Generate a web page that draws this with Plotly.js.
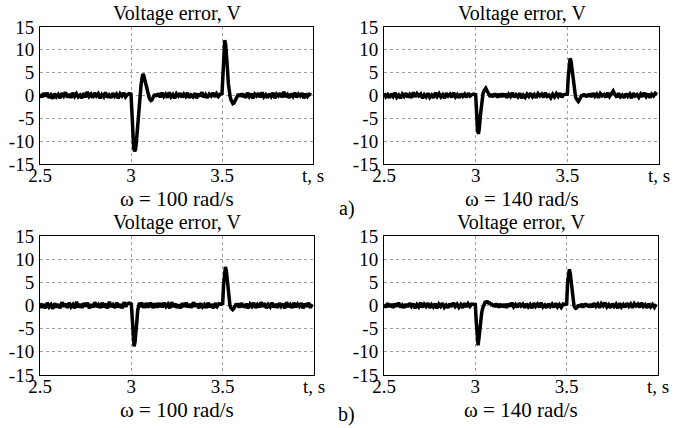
<!DOCTYPE html>
<html>
<head>
<meta charset="utf-8">
<script src="https://cdn.plot.ly/plotly-3.0.1.min.js"></script>
<style>html,body{margin:0;padding:0;background:#fff;}#chart{width:674px;height:428px;}</style>
</head>
<body>
<div id="chart"></div>
<script>
// time base, s
var t = [
 2.5,2.51,2.52,2.53,2.54,2.55,2.56,2.57,2.58,2.59,2.6,2.61,2.62,2.63,2.64,2.65,2.66,2.67,2.68,2.69,2.7,2.71,2.72,2.73,2.74,2.75,2.76,2.77,2.78,2.79,2.8,2.81,2.82,2.83,2.84,2.85,2.86,2.87,2.88,2.89,2.9,2.91,2.92,2.93,2.94,2.95,2.96,2.97,2.98,2.99,
 3,3.005,3.01,3.015,3.02,3.025,3.03,3.035,3.04,3.045,3.05,3.055,3.06,3.065,3.07,3.075,3.08,3.085,3.09,3.095,3.1,3.105,3.11,3.115,3.12,3.125,3.13,3.135,3.14,3.145,3.15,
 3.16,3.17,3.18,3.19,3.2,3.21,3.22,3.23,3.24,3.25,3.26,3.27,3.28,3.29,3.3,3.31,3.32,3.33,3.34,3.35,3.36,3.37,3.38,3.39,3.4,3.41,3.42,3.43,3.44,3.45,3.46,3.47,3.48,3.49,
 3.5,3.505,3.51,3.515,3.52,3.525,3.53,3.535,3.54,3.545,3.55,3.555,3.56,3.565,3.57,3.575,3.58,3.585,3.59,3.595,3.6,3.605,3.61,3.615,3.62,
 3.63,3.64,3.65,3.66,3.67,3.68,3.69,3.7,3.71,3.72,3.73,3.74,3.75,3.76,3.77,3.78,3.79,3.8,3.81,3.82,3.83,3.84,3.85,3.86,3.87,3.88,3.89,3.9,3.91,3.92,3.93,3.94,3.95,3.96,3.97,3.98,3.99
];

// a) omega = 100 rad/s
var errA100 = [
 0.3,-0.4,0.5,-0.2,0.6,-0.5,0.1,-0.7,0.4,-0.3,0.2,-0.6,0.5,-0.1,0.7,-0.4,0.3,-0.5,0.6,-0.2,0.4,-0.3,0.1,-0.6,0.5,-0.4,0.8,-0.2,0.3,-0.5,0.6,-0.1,0.4,-0.6,0.2,-0.3,0.7,-0.4,0.1,-0.5,0.5,-0.2,0.3,-0.6,0.4,-0.1,0.6,-0.3,0.2,0.4,
 0.3,-5,-10.5,-11.6,-12.2,-11.8,-10,-7,-4,-1.5,0.5,2.2,3.6,4.7,4.4,3.5,2.6,1.6,0.8,0.1,-0.5,-0.9,-1.1,-1.0,-0.6,-0.2,0.3,-0.3,0.4,-0.2,0.5,
 -0.4,0.6,-0.2,0.3,-0.5,0.7,-0.3,0.2,-0.6,0.4,-0.1,0.5,-0.4,0.3,-0.2,0.6,-0.5,0.1,-0.3,0.5,-0.6,0.4,-0.2,0.7,-0.4,0.2,-0.5,0.3,-0.1,0.6,-0.3,0.4,-0.2,0.3,
 0.4,6,11.5,12.1,11.2,9.2,5.8,2.6,0.6,-0.3,-1.0,-1.5,-1.8,-1.7,-1.3,-0.8,-0.4,0.1,0.3,-0.3,0.4,-0.2,0.5,-0.4,0.3,
 -0.5,0.6,-0.2,0.4,-0.6,0.3,-0.1,0.5,-0.4,0.7,-0.3,0.2,-0.5,0.4,-0.2,0.6,-0.6,0.3,-0.1,0.5,-0.4,0.8,-0.3,0.2,-0.5,0.4,-0.2,0.6,-0.4,0.3,-0.1,0.5,-0.6,0.4,-0.2,0.3,0.1
];
// a) omega = 140 rad/s
var errA140 = [
 0.5,-0.3,0.2,-0.5,0.4,-0.2,0.6,-0.4,0.1,-0.6,0.3,-0.2,0.5,-0.4,0.2,-0.5,0.7,-0.3,0.4,-0.1,0.3,-0.6,0.2,-0.3,0.5,-0.4,0.1,-0.5,0.6,-0.2,0.4,-0.3,0.2,-0.6,0.5,-0.1,0.3,-0.4,0.6,-0.3,0.2,-0.5,0.4,-0.2,0.3,-0.4,0.5,-0.1,0.2,0.3,
 0.2,-4,-7.5,-8.4,-7.2,-4.6,-2.3,-0.6,0.4,1.0,1.5,1.6,1.2,0.8,0.5,0.2,-0.3,0.4,-0.4,0.2,-0.2,0.5,-0.3,0.3,-0.5,0.4,-0.1,0.3,-0.4,0.5,-0.2,
 0.4,-0.5,0.3,-0.2,0.6,-0.4,0.2,-0.3,0.5,-0.6,0.1,-0.4,0.3,-0.2,0.5,-0.3,0.2,-0.5,0.4,-0.1,0.3,-0.4,0.6,-0.2,0.1,-0.5,0.3,-0.3,0.4,-0.2,0.5,-0.4,0.2,0.3,
 0.3,4,7.3,8.1,7.6,6,3.5,1.3,0.2,-0.4,-0.8,-1.1,-1.3,-1.0,-0.6,-0.3,0.2,-0.3,0.4,-0.2,0.3,-0.4,0.2,-0.1,0.4,
 -0.3,0.5,-0.2,0.3,-0.5,0.4,-0.1,0.2,-0.4,0.6,-0.2,0.3,1.0,0.2,-0.4,0.5,-0.3,0.1,-0.5,0.4,-0.2,0.3,-0.6,0.5,-0.1,0.2,-0.4,0.3,-0.3,0.6,-0.2,0.4,-0.5,0.3,-0.1,0.5,0.2
];
// b) omega = 100 rad/s
var errB100 = [
 0.5,-0.5,0.3,-0.6,0.6,-0.3,0.2,-0.7,0.5,-0.4,0.3,-0.6,0.7,-0.2,0.4,-0.5,0.6,-0.3,0.2,-0.6,0.8,-0.4,0.3,-0.5,0.5,-0.2,0.6,-0.6,0.3,-0.4,0.7,-0.3,0.2,-0.5,0.6,-0.4,0.4,-0.6,0.8,-0.3,0.2,-0.5,0.6,-0.4,0.3,-0.6,0.7,-0.2,0.4,0.5,
 0.3,-2.5,-6.5,-8.8,-8.0,-6.4,-3.5,-1.0,0.3,0.6,-0.4,0.7,-0.3,0.5,-0.6,0.4,-0.2,0.6,-0.5,0.3,-0.4,0.7,-0.3,0.2,-0.6,0.5,-0.2,0.4,-0.5,0.6,-0.3,
 0.5,-0.4,0.6,-0.2,0.3,-0.6,0.7,-0.3,0.4,-0.5,0.2,-0.6,0.5,-0.3,0.6,-0.4,0.3,-0.5,0.7,-0.2,0.4,-0.6,0.5,-0.3,0.2,-0.5,0.6,-0.4,0.3,-0.6,0.5,-0.2,0.4,0.3,
 0.4,4.5,7.8,8.3,7.5,5.5,3.0,1.2,0.0,-0.5,-0.8,-0.9,-0.7,-0.4,-0.1,0.4,-0.3,0.5,-0.5,0.3,-0.2,0.6,-0.4,0.2,-0.5,
 0.4,-0.6,0.3,-0.2,0.6,-0.5,0.2,-0.4,0.7,-0.3,0.5,-0.6,0.2,-0.3,0.6,-0.4,0.3,-0.5,0.5,-0.2,0.4,-0.6,0.7,-0.3,0.2,-0.5,0.6,-0.4,0.3,-0.2,0.5,-0.6,0.4,-0.3,0.6,-0.5,0.3
];
// b) omega = 140 rad/s
var errB140 = [
 0.2,-0.4,0.5,-0.3,0.3,-0.5,0.4,-0.2,0.6,-0.4,0.1,-0.5,0.3,-0.3,0.5,-0.2,0.4,-0.6,0.2,-0.3,0.6,-0.4,0.3,-0.2,0.5,-0.5,0.2,-0.3,0.4,-0.6,0.3,-0.2,0.5,-0.4,0.1,-0.5,0.4,-0.3,0.6,-0.2,0.3,-0.4,0.2,-0.5,0.5,-0.3,0.4,-0.2,0.3,0.2,
 0.2,-3.5,-7.5,-8.6,-7.0,-4.5,-2.6,-1.5,-0.6,0.0,0.5,0.9,0.6,1.0,0.4,0.8,0.2,0.6,-0.1,0.4,-0.3,0.3,-0.4,0.5,-0.2,0.3,-0.5,0.4,-0.1,0.3,-0.4,
 0.3,-0.5,0.4,-0.2,0.6,-0.3,0.2,-0.4,0.5,-0.1,0.3,-0.5,0.4,-0.3,0.2,-0.6,0.5,-0.2,0.3,-0.4,0.6,-0.3,0.1,-0.5,0.4,-0.2,0.3,-0.4,0.5,-0.3,0.2,-0.4,0.3,0.2,
 0.3,5,7.6,7.8,6.8,4.8,2.5,0.8,0.0,-0.4,-0.6,-0.5,-0.3,0.2,-0.4,0.3,-0.2,0.4,-0.5,0.2,-0.3,0.5,-0.2,0.3,-0.4,
 0.3,-0.4,0.5,-0.2,0.3,-0.5,0.4,-0.1,0.6,-0.3,0.2,-0.5,0.4,-0.2,0.3,-0.6,0.5,-0.3,0.2,-0.4,0.5,-0.2,0.3,-0.5,0.4,-0.1,0.3,-0.4,0.6,-0.2,0.2,-0.5,0.4,-0.3,0.2,-0.4,0.3
];

var xTickVals = [2.5, 3, 3.5, 4];
var xTickText = ['2.5', '3', '3.5', 't, s'];
var yTickVals = [-15, -10, -5, 0, 5, 10, 15];
var yTickText = ['-15', '-10', '-5', '0', '5', '10', '15'];
var panelTitle = 'Voltage error, V';
var speedLabels = ['\u03c9 = 100 rad/s', '\u03c9 = 140 rad/s', '\u03c9 = 100 rad/s', '\u03c9 = 140 rad/s'];
var groupLabels = ['a)', 'b)'];

var W = 674, H = 428;
var FONT = '"Liberation Serif", "Times New Roman", Times, serif';
var series = [errA100, errA140, errB100, errB140];
// plot rectangles in pixels [left, right, top, bottom]
var rects = [[40, 313, 27, 164], [384, 659, 27, 164], [40, 314, 236, 375], [384, 658, 236, 375]];

var traces = [];
var layout = {
  width: W, height: H,
  margin: {l: 0, r: 0, t: 0, b: 0},
  paper_bgcolor: '#fff', plot_bgcolor: '#fff',
  showlegend: false,
  font: {family: FONT, size: 20, color: '#000'},
  annotations: []
};

series.forEach(function (v, i) {
  var n = i + 1;
  var r = rects[i];
  traces.push({
    type: 'scatter', mode: 'lines', x: t, y: v,
    xaxis: 'x' + (n === 1 ? '' : n), yaxis: 'y' + (n === 1 ? '' : n),
    line: {color: '#000', width: 3.5},
    hoverinfo: 'skip'
  });
  var axBase = {
    showline: true, mirror: true, linecolor: '#000', linewidth: 1,
    showgrid: true, gridcolor: '#a0a0a0', griddash: 'dot', gridwidth: 1,
    zeroline: false, ticks: '', fixedrange: true,
    tickfont: {family: FONT, size: 19, color: '#000'}
  };
  var xa = Object.assign({}, axBase, {
    domain: [r[0] / W, r[1] / W], range: [2.5, 4],
    tickmode: 'array', tickvals: xTickVals, ticktext: xTickText,
    anchor: 'y' + (n === 1 ? '' : n), ticklabelstandoff: -6
  });
  var ya = Object.assign({}, axBase, {
    domain: [1 - r[3] / H, 1 - r[2] / H], range: [-15, 15],
    tickmode: 'array', tickvals: yTickVals, ticktext: yTickText,
    anchor: 'x' + (n === 1 ? '' : n), ticklabelstandoff: 1
  });
  layout['xaxis' + (n === 1 ? '' : n)] = xa;
  layout['yaxis' + (n === 1 ? '' : n)] = ya;
  var cx = (r[0] + r[1]) / 2 / W;
  layout.annotations.push({
    text: panelTitle, xref: 'paper', yref: 'paper', x: cx, y: 1 - (r[2] - 14) / H,
    xanchor: 'center', yanchor: 'middle', showarrow: false, borderpad: 0,
    font: {family: FONT, size: 20, color: '#000'}
  });
  layout.annotations.push({
    text: speedLabels[i], xref: 'paper', yref: 'paper', x: cx, y: 1 - (r[3] + 35) / H,
    xanchor: 'center', yanchor: 'middle', showarrow: false, borderpad: 0,
    font: {family: FONT, size: 21, color: '#000'}
  });
});

layout.annotations.push({
  text: groupLabels[0], xref: 'paper', yref: 'paper', x: 347 / W, y: 1 - 208 / H,
  xanchor: 'center', yanchor: 'middle', showarrow: false, borderpad: 0,
  font: {family: FONT, size: 20, color: '#000'}
});
layout.annotations.push({
  text: groupLabels[1], xref: 'paper', yref: 'paper', x: 347 / W, y: 1 - 414 / H,
  xanchor: 'center', yanchor: 'middle', showarrow: false, borderpad: 0,
  font: {family: FONT, size: 20, color: '#000'}
});

Plotly.newPlot('chart', traces, layout, {displayModeBar: false, staticPlot: true});
</script>
</body>
</html>
